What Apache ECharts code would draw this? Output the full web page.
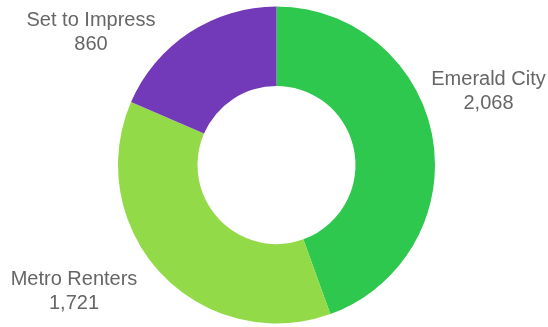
<!DOCTYPE html>
<html>
<head>
<meta charset="utf-8">
<script src="https://cdn.jsdelivr.net/npm/echarts@6/dist/echarts.min.js"></script>
<style>
html,body{margin:0;padding:0;background:#fff;}
#chart{width:548px;height:327px;}
</style>
</head>
<body>
<div id="chart"></div>
<script>
const categories = ['Emerald City', 'Metro Renters', 'Set to Impress'];
const values = [2068, 1721, 860];
const colors = ['#2DC84D', '#93DA49', '#7239B8'];
const labelAnchors = [[488.5, 91], [74, 291], [91, 32]];

const chart = echarts.init(document.getElementById('chart'), null, {renderer: 'canvas'});
chart.setOption({
  animation: false,
  backgroundColor: '#ffffff',
  series: [{
    type: 'pie',
    center: [276.5, 165],
    radius: [79, 158.5],
    startAngle: 90,
    clockwise: true,
    avoidLabelOverlap: false,
    itemStyle: {borderWidth: 0},
    label: {
      show: true,
      position: 'outside',
      formatter: p => p.name + '\n' + p.value.toLocaleString('en-US'),
      fontFamily: '"Liberation Sans", Arial, sans-serif',
      fontSize: 20,
      lineHeight: 24,
      color: '#666666',
      align: 'center'
    },
    labelLine: {show: false},
    labelLayout: function (params) {
      const a = labelAnchors[params.dataIndex];
      return {x: a[0], y: a[1], align: 'center', verticalAlign: 'middle'};
    },
    emphasis: {disabled: true},
    data: categories.map((c, i) => ({name: c, value: values[i], itemStyle: {color: colors[i]}}))
  }]
});
</script>
</body>
</html>
